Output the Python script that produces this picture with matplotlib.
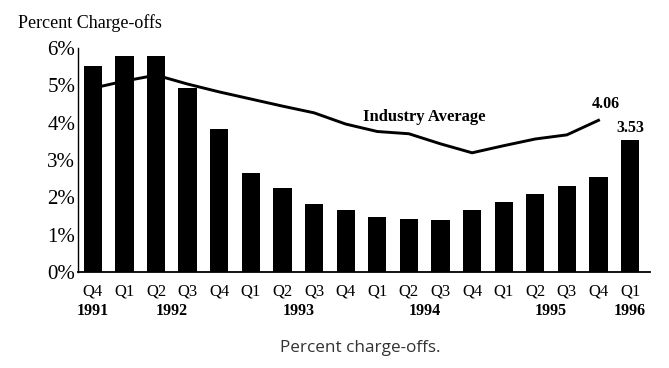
import matplotlib

matplotlib.use("Agg")
import matplotlib.pyplot as plt
import numpy as np

# quarters Q4 1991 .. Q1 1996
QUARTERS = ["Q4", "Q1", "Q2", "Q3", "Q4", "Q1", "Q2", "Q3", "Q4",
            "Q1", "Q2", "Q3", "Q4", "Q1", "Q2", "Q3", "Q4", "Q1"]
CHARGE_OFFS = [5.52, 5.79, 5.79, 4.93, 3.83, 2.66, 2.24, 1.82, 1.66,
               1.48, 1.42, 1.38, 1.66, 1.88, 2.08, 2.31, 2.53, 3.53]
# industry average, Q4 1991 .. Q4 1995
INDUSTRY_AVG = [4.92, 5.11, 5.27, 5.03, 4.82, 4.63, 4.44, 4.26, 3.96,
                3.76, 3.70, 3.43, 3.19, 3.38, 3.56, 3.67, 4.06]
YEARS = ["1991", "1992", "1993", "1994", "1995", "1996"]
YEAR_POS = [0, 2.5, 6.5, 10.5, 14.5, 17]
YTICKS = [0, 1, 2, 3, 4, 5, 6]

SERIF = "Liberation Serif"

fig = plt.figure(figsize=(6.69, 3.68), dpi=100)
ax = fig.add_axes([0.1166, 0.261, 0.855, 0.609])

x = np.arange(len(QUARTERS))
ax.bar(x, CHARGE_OFFS, width=0.58, color="black", zorder=3)
ax.plot(np.arange(len(INDUSTRY_AVG)), INDUSTRY_AVG, color="black",
        linewidth=2.1, zorder=2, solid_joinstyle="round")

ax.set_xlim(-0.47, 17.63)
ax.set_ylim(0, 6)
ax.set_yticks(YTICKS)
ax.set_yticklabels([f"{v}%" for v in YTICKS], family=SERIF, fontsize=15,
                   fontweight="medium")
ax.set_xticks(x)
ax.set_xticklabels(QUARTERS, family=SERIF, fontsize=12)
ax.tick_params(axis="y", length=0, pad=2)
ax.tick_params(axis="x", length=0, pad=8)
for s in ["top", "right"]:
    ax.spines[s].set_visible(False)
ax.spines["left"].set_linewidth(1.0)
ax.spines["bottom"].set_linewidth(1.3)

for yr, p in zip(YEARS, YEAR_POS):
    ax.text(p, -0.175, yr, transform=ax.get_xaxis_transform(), ha="center",
            va="center", family=SERIF, fontsize=11.5, fontweight="bold")

ax.text(10.5, 4.15, "Industry Average", ha="center", va="center",
        family=SERIF, fontsize=12, fontweight="bold")
ax.annotate(f"{INDUSTRY_AVG[-1]:.2f}", (len(INDUSTRY_AVG) - 1, INDUSTRY_AVG[-1]),
            xytext=(5, 6), textcoords="offset points", ha="center",
            va="bottom", family=SERIF, fontsize=11.5, fontweight="bold")
ax.annotate(f"{CHARGE_OFFS[-1]:.2f}", (len(CHARGE_OFFS) - 1, CHARGE_OFFS[-1]),
            xytext=(0, 3), textcoords="offset points", ha="center",
            va="bottom", family=SERIF, fontsize=11.5, fontweight="bold")

fig.text(0.027, 0.937, "Percent Charge-offs", ha="left", va="center",
         family=SERIF, fontsize=13)
fig.text(0.539, 0.054, "Percent charge-offs.", ha="center", va="center",
         family="Open Sans", fontsize=12.3, color="#333333")

fig.savefig("out.png")
